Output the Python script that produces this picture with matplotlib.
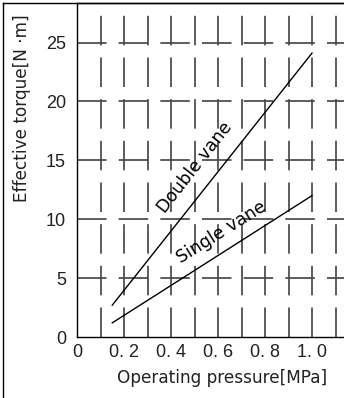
import matplotlib
matplotlib.use("Agg")
import matplotlib.pyplot as plt
from matplotlib import font_manager
from matplotlib.lines import Line2D

# chart values
pressure = [0.15, 1.0]
double_vane = [2.7, 24.1]
single_vane = [1.2, 12.0]
xtick_vals = [0, 0.2, 0.4, 0.6, 0.8, 1.0]
xtick_labels = ["0", "0. 2", "0. 4", "0. 6", "0. 8", "1. 0"]
ytick_vals = [0, 5, 10, 15, 20, 25]
ytick_labels = ["0", "5", "10", "15", "20", "25"]
vgrid = [0.1, 0.2, 0.3, 0.4, 0.5, 0.6, 0.7, 0.8, 0.9, 1.0, 1.1]
hgrid = [5, 10, 15, 20, 25]

# narrow face for tick numbers if there is one
tick_font = "Liberation Sans"
try:
    font_manager.findfont("Liberation Sans Narrow", fallback_to_default=False)
    tick_font = "Liberation Sans Narrow"
except ValueError:
    pass

W, H = 344, 398
fig = plt.figure(figsize=(W / 100, H / 100), dpi=100)
ax = fig.add_axes([77 / W, 1 - 337 / H, 1 - 77 / W, (337 - 3) / H])
ax.set_xlim(0, (344 - 77) / 235.0)
ax.set_ylim(0, 334 / 11.78)

# dashed grid
for x in vgrid:
    ax.axvline(x, color="#4a4a4a", lw=1.25, dashes=(17, 7), zorder=1)
for y in hgrid:
    ax.axhline(y, color="#4a4a4a", lw=1.25, dashes=(17, 7), zorder=1)

ax.plot(pressure, double_vane, color="black", lw=1.0, zorder=3)
ax.plot(pressure, single_vane, color="black", lw=1.0, zorder=3)

ax.text(0.50, 14.4, "Double vane", rotation=52, fontsize=12.5,
        ha="center", va="center", family="DejaVu Sans", rotation_mode="anchor")
ax.text(0.615, 8.9, "Single vane", rotation=32, fontsize=12.5,
        ha="center", va="center", family="DejaVu Sans", rotation_mode="anchor")

for s in ["top", "left", "bottom"]:
    ax.spines[s].set_linewidth(1.0)
ax.spines["right"].set_visible(False)

ax.set_xticks(xtick_vals)
ax.set_xticklabels(xtick_labels, family=tick_font, fontsize=13, color="#222222")
ax.set_yticks(ytick_vals)
ax.set_yticklabels(ytick_labels, family=tick_font, fontsize=13, color="#222222")
ax.tick_params(length=0, pad=5)
ax.tick_params(axis="y", pad=8)

fig.text(222 / W, 1 - 383 / H, "Operating pressure[MPa]", ha="center", va="baseline",
         fontsize=12.2, family="DejaVu Sans", color="#222222")
fig.text(22 / W, 1 - 108 / H, "Effective torque[N ·m]", ha="center", va="center",
         rotation=90, fontsize=12.2, family="DejaVu Sans", color="#222222")

# outer frame on the top and left edges
fig.add_artist(Line2D([3 / W, 3 / W], [0, 1 - 3 / H], color="black", lw=1.0,
                      transform=fig.transFigure))
fig.add_artist(Line2D([3 / W, 1], [1 - 3 / H, 1 - 3 / H], color="black", lw=1.0,
                      transform=fig.transFigure))

fig.savefig("out.png", dpi=100)
